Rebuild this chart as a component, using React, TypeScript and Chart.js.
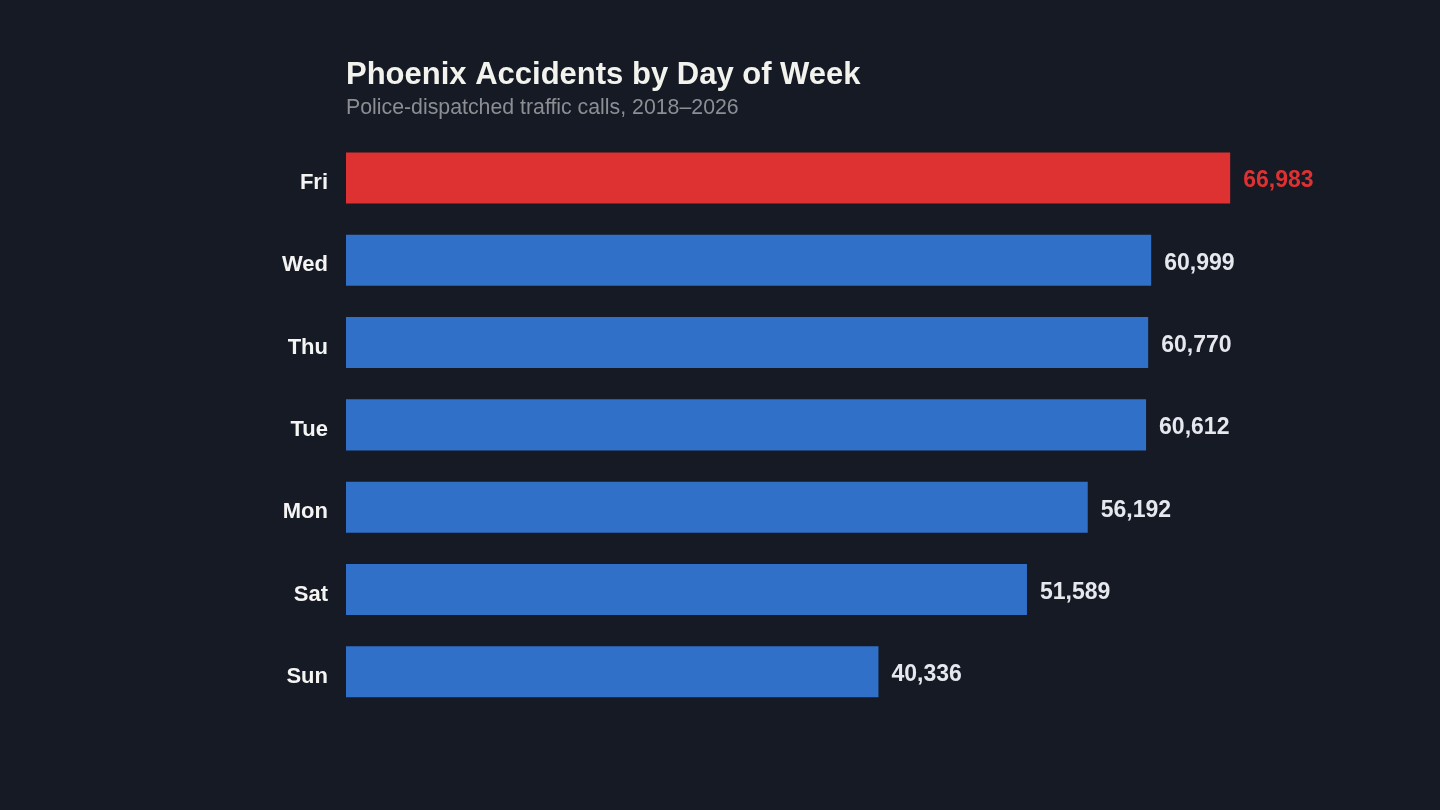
import React, { useEffect, useRef } from "react";
import { Chart, registerables } from "chart.js";

Chart.register(...registerables);

const days: string[] = ["Fri", "Wed", "Thu", "Tue", "Mon", "Sat", "Sun"];
const accidents: number[] = [66983, 60999, 60770, 60612, 56192, 51589, 40336];
const highlightDay = "Fri";

const TITLE = "Phoenix Accidents by Day of Week";
const SUBTITLE = "Police-dispatched traffic calls, 2018\u20132026";

const BG = "#151a25";
const RED = "#de3131";
const BLUE = "#3070c8";
const LABEL = "#e6e8ee";
const FONT = "'Liberation Sans', Arial, Helvetica, sans-serif";

const valueLabels = {
  id: "valueLabels",
  afterDatasetsDraw(chart: any) {
    const ctx = chart.ctx;
    const meta = chart.getDatasetMeta(0);
    const data = chart.data.datasets[0].data as number[];
    ctx.save();
    ctx.font = `bold 23px ${FONT}`;
    ctx.textBaseline = "middle";
    ctx.textAlign = "left";
    meta.data.forEach((bar: any, i: number) => {
      const label = chart.data.labels[i];
      ctx.fillStyle = label === highlightDay ? RED : LABEL;
      ctx.fillText(data[i].toLocaleString("en-US"), bar.x + 13, bar.y + 3);
    });
    ctx.restore();
  },
};

export default function App() {
  const ref = useRef<HTMLCanvasElement | null>(null);

  useEffect(() => {
    if (!ref.current) return;
    const chart = new Chart(ref.current, {
      type: "bar",
      data: {
        labels: days,
        datasets: [
          {
            data: accidents,
            backgroundColor: days.map((d) => (d === highlightDay ? RED : BLUE)),
            borderWidth: 0,
            categoryPercentage: 1,
            barPercentage: 0.62,
          },
        ],
      },
      options: {
        indexAxis: "y",
        responsive: false,
        animation: false,
        layout: { padding: { top: 0, right: 104, bottom: 97, left: 0 } },
        scales: {
          x: { display: false, min: 0, max: 75000 },
          y: {
            grid: { display: false },
            border: { display: false },
            ticks: {
              color: "#f4f4f2",
              font: { family: FONT, size: 22, weight: "bold" },
              padding: 10,
              labelOffset: 5,
            },
            afterFit: (scale: any) => {
              scale.width = 346;
            },
          },
        },
        plugins: {
          legend: { display: false },
          tooltip: { enabled: false },
          title: {
            display: true,
            text: TITLE,
            align: "start",
            fullSize: false,
            color: "#f3f3ee",
            font: { family: FONT, size: 31, weight: "bold" },
            padding: { top: 57, bottom: 0 },
          },
          subtitle: {
            display: true,
            text: SUBTITLE,
            align: "start",
            fullSize: false,
            color: "#8c8e93",
            font: { family: FONT, size: 21.3, weight: "normal" },
            padding: { top: 1, bottom: 16 },
          },
        },
      },
      plugins: [valueLabels],
    });
    return () => chart.destroy();
  }, []);

  return (
    <div
      style={{
        position: "fixed",
        left: 0,
        top: 0,
        width: 1440,
        height: 810,
        background: BG,
      }}
    >
      <canvas ref={ref} width={1440} height={810} style={{ display: "block" }} />
    </div>
  );
}
